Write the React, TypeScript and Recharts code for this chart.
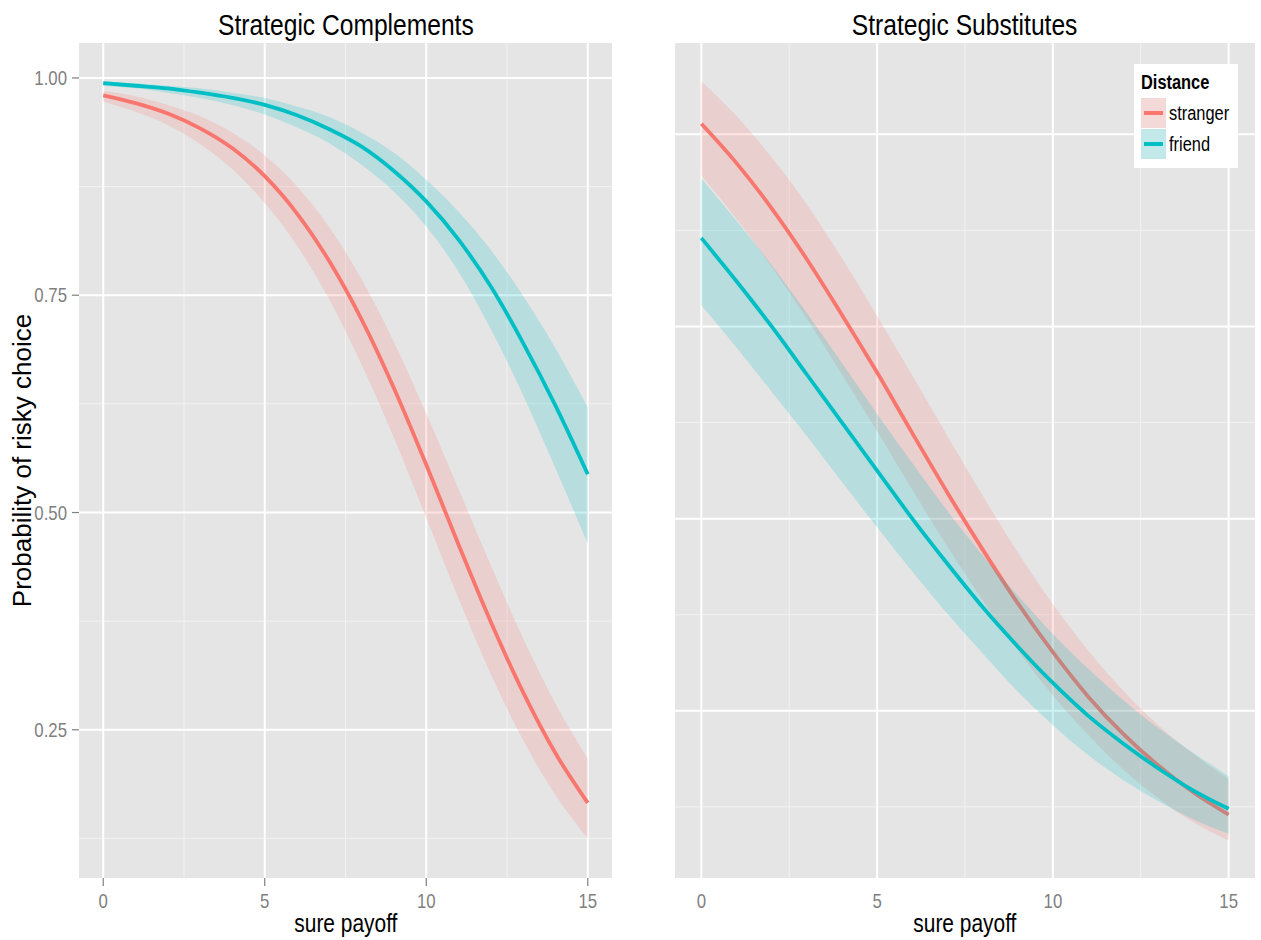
import React from "react";
import { ComposedChart, Area, Line, XAxis, YAxis, CartesianGrid } from "recharts";

const FONT = "'Liberation Sans', Arial, sans-serif";
// the reference uses a condensed Helvetica; squeeze Liberation Sans horizontally
const NARROW = 0.82;
const TICK_NARROW = 0.84;

const payoff = [0, 1, 2, 3, 4, 5, 6, 7, 8, 9, 10, 11, 12, 13, 14, 15];

// Strategic Complements
const compStranger = [0.980, 0.971, 0.959, 0.942, 0.919, 0.887, 0.844, 0.789, 0.722, 0.643, 0.555, 0.463, 0.374, 0.293, 0.223, 0.166];
const compStrangerLow = [0.973, 0.961, 0.946, 0.924, 0.895, 0.856, 0.807, 0.745, 0.670, 0.586, 0.494, 0.401, 0.314, 0.238, 0.175, 0.125];
const compStrangerHigh = [0.985, 0.979, 0.969, 0.956, 0.937, 0.911, 0.875, 0.828, 0.768, 0.696, 0.614, 0.527, 0.439, 0.355, 0.280, 0.217];
const compFriend = [0.994, 0.991, 0.988, 0.983, 0.977, 0.969, 0.957, 0.941, 0.921, 0.893, 0.858, 0.814, 0.760, 0.695, 0.623, 0.544];
const compFriendLow = [0.991, 0.988, 0.983, 0.977, 0.969, 0.958, 0.943, 0.925, 0.900, 0.869, 0.829, 0.777, 0.711, 0.635, 0.551, 0.464];
const compFriendHigh = [0.996, 0.994, 0.991, 0.988, 0.983, 0.977, 0.967, 0.955, 0.937, 0.914, 0.883, 0.846, 0.802, 0.749, 0.689, 0.621];

// Strategic Substitutes
const subsStranger = [0.811, 0.770, 0.723, 0.670, 0.612, 0.552, 0.489, 0.427, 0.368, 0.312, 0.261, 0.215, 0.176, 0.143, 0.115, 0.092];
const subsStrangerLow = [0.757, 0.712, 0.662, 0.608, 0.550, 0.491, 0.430, 0.371, 0.315, 0.263, 0.216, 0.175, 0.139, 0.109, 0.084, 0.065];
const subsStrangerHigh = [0.855, 0.819, 0.776, 0.727, 0.671, 0.611, 0.549, 0.486, 0.424, 0.365, 0.311, 0.263, 0.221, 0.185, 0.155, 0.129];
const subsFriend = [0.692, 0.647, 0.600, 0.550, 0.500, 0.450, 0.400, 0.353, 0.308, 0.267, 0.229, 0.195, 0.166, 0.140, 0.117, 0.098];
const subsFriendLow = [0.622, 0.578, 0.532, 0.486, 0.438, 0.391, 0.345, 0.301, 0.260, 0.220, 0.185, 0.154, 0.128, 0.106, 0.087, 0.072];
const subsFriendHigh = [0.754, 0.710, 0.664, 0.614, 0.562, 0.509, 0.458, 0.408, 0.362, 0.320, 0.280, 0.244, 0.211, 0.182, 0.156, 0.132];

const seriesNames = ["stranger", "friend"];
const seriesColors = ["#F8766D", "#00BFC4"];
const keyFills = ["#F3D9D7", "#C2E8E9"];

const xTicks = [0, 5, 10, 15];
const xMinor = [2.5, 7.5, 12.5];
const compYTicks = [0.25, 0.5, 0.75, 1.0];
const compYMinor = [0.125, 0.375, 0.625, 0.875];
const subsYTicks = [0.2, 0.4, 0.6, 0.8];
const subsYMinor = [0.1, 0.3, 0.5, 0.7];

const makeRows = (
  s: number[], sLo: number[], sHi: number[],
  f: number[], fLo: number[], fHi: number[]
) =>
  payoff.map((x, i) => ({
    x,
    stranger: s[i],
    strangerBand: [sLo[i], sHi[i]],
    friend: f[i],
    friendBand: [fLo[i], fHi[i]],
  }));

const compRows = makeRows(compStranger, compStrangerLow, compStrangerHigh, compFriend, compFriendLow, compFriendHigh);
const subsRows = makeRows(subsStranger, subsStrangerLow, subsStrangerHigh, subsFriend, subsFriendLow, subsFriendHigh);

const XTick = (props: any) => {
  const { x, y, payload } = props;
  return (
    <g transform={`translate(${x},${y})`}>
      <text transform={`scale(${TICK_NARROW},1)`} textAnchor="middle" dy="0.71em" fill="#7F7F7F" fontSize={20} fontFamily={FONT}>
        {payload.value}
      </text>
    </g>
  );
};

const YTick = (props: any) => {
  const { x, y, payload } = props;
  return (
    <g transform={`translate(${x},${y})`}>
      <text transform={`scale(${TICK_NARROW},1)`} textAnchor="end" dy="0.355em" fill="#7F7F7F" fontSize={20} fontFamily={FONT}>
        {Number(payload.value).toFixed(2)}
      </text>
    </g>
  );
};

const Squeezed: React.FC<{ size: number; bold?: boolean; origin?: string; children: React.ReactNode }> = ({ size, bold, origin, children }) => (
  <span
    style={{
      display: "inline-block",
      fontFamily: FONT,
      fontSize: size,
      lineHeight: `${size}px`,
      fontWeight: bold ? "bold" : "normal",
      transform: `scaleX(${NARROW})`,
      transformOrigin: origin || "center",
      whiteSpace: "nowrap",
    }}
  >
    {children}
  </span>
);

interface PanelProps {
  title: string;
  rows: any[];
  yDomain: [number, number];
  yTicks: number[];
  yMinor: number[];
  showY: boolean;
  left: number;
  width: number;
  margin: { top: number; right: number; bottom: number; left: number };
}

const Panel: React.FC<PanelProps> = ({ title, rows, yDomain, yTicks, yMinor, showY, left, width, margin }) => {
  const plotLeft = margin.left + (showY ? 79 : 0);
  const plotWidth = width - plotLeft - margin.right;
  return (
    <div style={{ position: "absolute", left, top: 0, width, height: 940 }}>
      <ComposedChart width={width} height={940} data={rows} margin={margin}>
        <CartesianGrid
          fill="#E5E5E5"
          fillOpacity={1}
          stroke="#F2F2F2"
          strokeWidth={1}
          horizontalValues={yMinor}
          verticalValues={xMinor}
        />
        <CartesianGrid stroke="#FFFFFF" strokeWidth={2} horizontalValues={yTicks} verticalValues={xTicks} />
        <XAxis
          type="number"
          dataKey="x"
          domain={[-0.75, 15.75]}
          ticks={xTicks}
          height={62}
          axisLine={false}
          tickLine={showY ? { stroke: "#7F7F7F", strokeWidth: 1.2 } : false}
          tickSize={8}
          tickMargin={8}
          tick={<XTick />}
        />
        <YAxis
          type="number"
          domain={yDomain}
          ticks={yTicks}
          hide={!showY}
          width={79}
          axisLine={false}
          tickLine={{ stroke: "#7F7F7F", strokeWidth: 1.2 }}
          tickSize={7}
          tickMargin={5}
          tick={<YTick />}
          label={
            showY
              ? { value: "Probability of risky choice", angle: -90, position: "insideLeft", offset: 22, fill: "#000", fontSize: 26, fontFamily: FONT, style: { textAnchor: "middle" } }
              : undefined
          }
        />
        <Area
          type="monotone"
          dataKey="strangerBand"
          stroke="none"
          fill={seriesColors[0]}
          fillOpacity={0.2}
          isAnimationActive={false}
          activeDot={false}
          zIndex={100}
        />
        <Line
          type="monotone"
          dataKey="stranger"
          stroke={seriesColors[0]}
          strokeWidth={3.8}
          dot={false}
          activeDot={false}
          isAnimationActive={false}
          zIndex={101}
        />
        <Area
          type="monotone"
          dataKey="friendBand"
          stroke="none"
          fill={seriesColors[1]}
          fillOpacity={0.2}
          isAnimationActive={false}
          activeDot={false}
          zIndex={102}
        />
        <Line
          type="monotone"
          dataKey="friend"
          stroke={seriesColors[1]}
          strokeWidth={3.8}
          dot={false}
          activeDot={false}
          isAnimationActive={false}
          zIndex={103}
        />
      </ComposedChart>
      <div style={{ position: "absolute", left: plotLeft, width: plotWidth, top: 10, textAlign: "center", color: "#000" }}>
        <Squeezed size={30}>{title}</Squeezed>
      </div>
      <div style={{ position: "absolute", left: plotLeft, width: plotWidth, top: 911, textAlign: "center", color: "#000" }}>
        <Squeezed size={25.5}>sure payoff</Squeezed>
      </div>
    </div>
  );
};

const DistanceLegend = () => (
  <div style={{ position: "absolute", left: 1134, top: 64, width: 104, height: 104, background: "#fff", color: "#000" }}>
    <div style={{ position: "absolute", left: 7, top: 8 }}>
      <Squeezed size={20} bold origin="left center">Distance</Squeezed>
    </div>
    {seriesNames.map((name, i) => (
      <div key={name} style={{ position: "absolute", left: 7, top: 34 + i * 31, height: 30, display: "flex", alignItems: "center" }}>
        <div style={{ width: 25, height: 30, background: keyFills[i], position: "relative", flex: "none" }}>
          <div style={{ position: "absolute", left: 3, right: 3, top: 13, height: 4, background: seriesColors[i] }} />
        </div>
        <div style={{ marginLeft: 3 }}>
          <Squeezed size={20} origin="left center">{name}</Squeezed>
        </div>
      </div>
    ))}
  </div>
);

export default function App() {
  return (
    <div style={{ position: "absolute", left: 0, top: 0, width: 1261, height: 940, background: "#fff" }}>
      <Panel
        title="Strategic Complements"
        rows={compRows}
        yDomain={[0.0795, 1.0402]}
        yTicks={compYTicks}
        yMinor={compYMinor}
        showY={true}
        left={0}
        width={620}
        margin={{ top: 43, right: 8, bottom: 0, left: 0 }}
      />
      <Panel
        title="Strategic Substitutes"
        rows={subsRows}
        yDomain={[0.026, 0.895]}
        yTicks={subsYTicks}
        yMinor={subsYMinor}
        showY={false}
        left={640}
        width={621}
        margin={{ top: 43, right: 6, bottom: 0, left: 35 }}
      />
      <DistanceLegend />
    </div>
  );
}
